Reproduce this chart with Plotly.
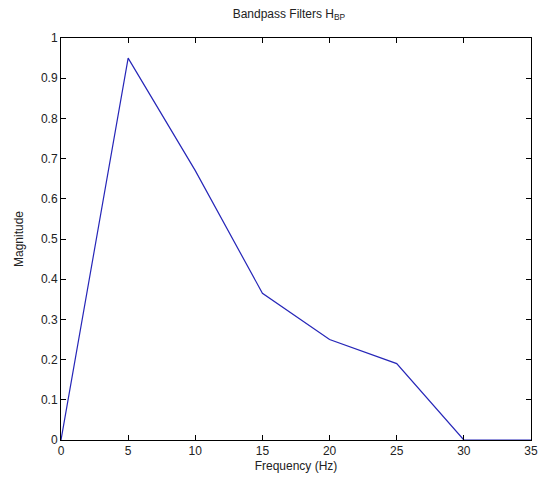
import plotly.graph_objects as go

# Frequency response samples of the bandpass filter
freq_hz = [0, 5, 10, 15, 20, 25, 30, 35]
magnitude = [0, 0.95, 0.67, 0.365, 0.25, 0.19, 0, 0]

x_ticks = [0, 5, 10, 15, 20, 25, 30, 35]
y_ticks = [0, 0.1, 0.2, 0.3, 0.4, 0.5, 0.6, 0.7, 0.8, 0.9, 1]
y_tick_text = ["0", "0.1", "0.2", "0.3", "0.4", "0.5", "0.6", "0.7", "0.8", "0.9", "1"]

font = dict(family="Liberation Sans, Arial, sans-serif", size=12, color="#222222")

fig = go.Figure()
fig.add_trace(go.Scatter(
    x=freq_hz, y=magnitude, mode="lines",
    line=dict(color="#2626b8", width=1.2),
    hoverinfo="skip", showlegend=False,
))

axis_common = dict(
    showgrid=False, zeroline=False, showline=True, linecolor="#000000",
    linewidth=1, mirror="ticks", ticks="inside", ticklen=5,
    tickcolor="#000000", tickwidth=1, tickfont=font, automargin=False,
)

fig.update_layout(
    width=538, height=484,
    margin=dict(l=61, r=7, t=38, b=44),
    paper_bgcolor="white", plot_bgcolor="white",
    font=font,
    title=dict(text="Bandpass Filters H<sub>BP</sub>", x=0.485, xanchor="center",
               xref="paper", y=0.972, yanchor="middle", font=font),
    xaxis=dict(range=[0, 35], tickvals=x_ticks,
               title=dict(text="Frequency (Hz)", font=font, standoff=4),
               **axis_common),
    yaxis=dict(range=[0, 1], tickvals=y_ticks, ticktext=y_tick_text,
               title=dict(text="Magnitude", font=font, standoff=14),
               **axis_common),
)

fig.write_html("out.html")
